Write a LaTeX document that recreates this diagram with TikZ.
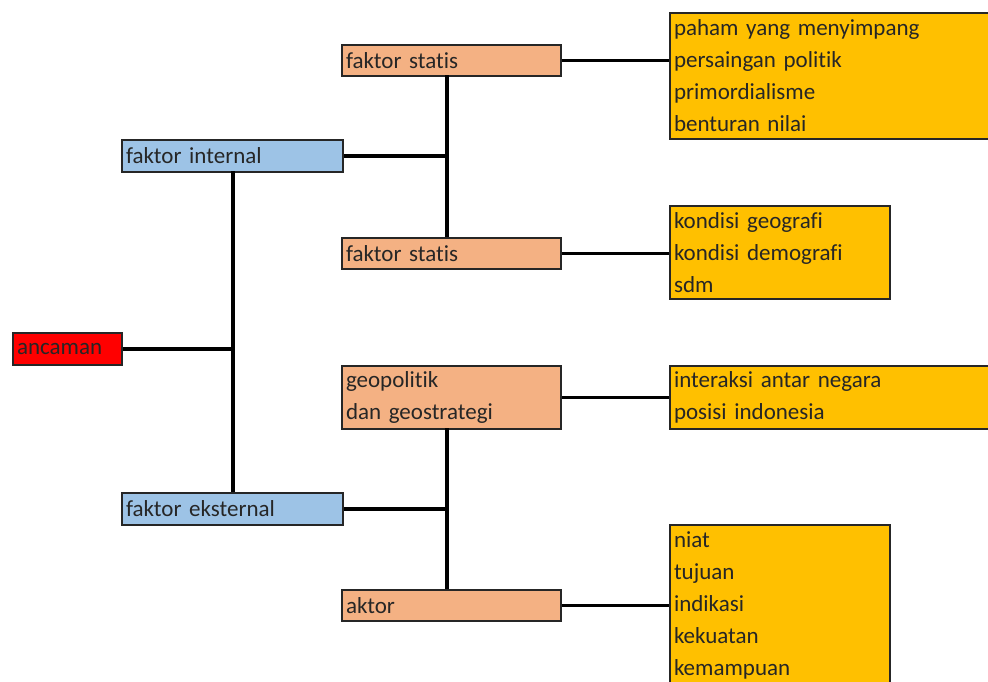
\documentclass[tikz,border=0pt]{standalone}
\usepackage{fontspec}
\setmainfont{Carlito}[Ligatures={NoCommon}]
\definecolor{redbox}{HTML}{FF0000}
\definecolor{bluebox}{HTML}{9DC3E6}
\definecolor{salmon}{HTML}{F4B183}
\definecolor{gold}{HTML}{FFC000}
\tikzset{
  box/.style={draw=black!85, line width=2pt, rectangle, anchor=north west, inner xsep=4pt, inner ysep=0pt,
    align=left, font=\fontsize{23}{32}\selectfont, text=black!85},
  redb/.style={box, fill=redbox},
  blueb/.style={box, fill=bluebox},
  salb/.style={box, fill=salmon},
  yelb/.style={box, fill=gold},
  conn/.style={line width=3.5pt, black}
}
\begin{document}
\begin{tikzpicture}[x=1pt,y=-1pt]
\useasboundingbox (0,0) rectangle (988,681);
% level 0
\node[redb, minimum width=109pt, minimum height=32pt, text width=101pt] (anc) at (12,332) {ancaman};
% level 1
\node[blueb, minimum width=221pt, minimum height=32pt, text width=213pt] (fi) at (121,139) {faktor internal};
\node[blueb, minimum width=221pt, minimum height=32pt, text width=213pt] (fe) at (121,492) {faktor eksternal};
% level 2
\node[salb, minimum width=219pt, minimum height=31pt, text width=211pt] (fs1) at (341,44) {faktor statis};
\node[salb, minimum width=219pt, minimum height=31pt, text width=211pt] (fs2) at (341,237) {faktor statis};
\node[salb, minimum width=219pt, minimum height=63pt, text width=211pt] (geo) at (341,365) {geopolitik\\dan geostrategi};
\node[salb, minimum width=219pt, minimum height=31pt, text width=211pt] (akt) at (341,589) {aktor};
% level 3
\node[yelb, minimum width=340pt, minimum height=126pt, text width=332pt] (y1) at (669,12) {paham yang menyimpang\\persaingan politik\\primordialisme\\benturan nilai};
\node[yelb, minimum width=220pt, minimum height=93pt, text width=212pt] (y2) at (669,205) {kondisi geografi\\kondisi demografi\\sdm};
\node[yelb, minimum width=340pt, minimum height=63pt, text width=332pt] (y3) at (669,365) {interaksi antar negara\\posisi indonesia};
\node[yelb, minimum width=220pt, minimum height=160pt, text width=212pt] (y4) at (669,524) {niat\\tujuan\\indikasi\\kekuatan\\kemampuan};
% connectors
\coordinate (t0) at (233,171);
\coordinate (b0) at (233,492);
\draw[conn] (t0) -- (b0);
\draw[conn] (anc.east) -- (anc.east -| t0);
\coordinate (t1) at (447,75);
\coordinate (b1) at (447,237);
\draw[conn] (t1) -- (b1);
\draw[conn] (fi.east) -- (fi.east -| t1);
\coordinate (t2) at (447,428);
\coordinate (b2) at (447,589);
\draw[conn] (t2) -- (b2);
\draw[conn] (fe.east) -- (fe.east -| t2);
\draw[conn] (fs1.east) -- (fs1.east -| y1.west);
\draw[conn] (fs2.east) -- (fs2.east -| y2.west);
\draw[conn] (geo.east) -- (geo.east -| y3.west);
\draw[conn] (akt.east) -- (akt.east -| y4.west);
\end{tikzpicture}
\end{document}
